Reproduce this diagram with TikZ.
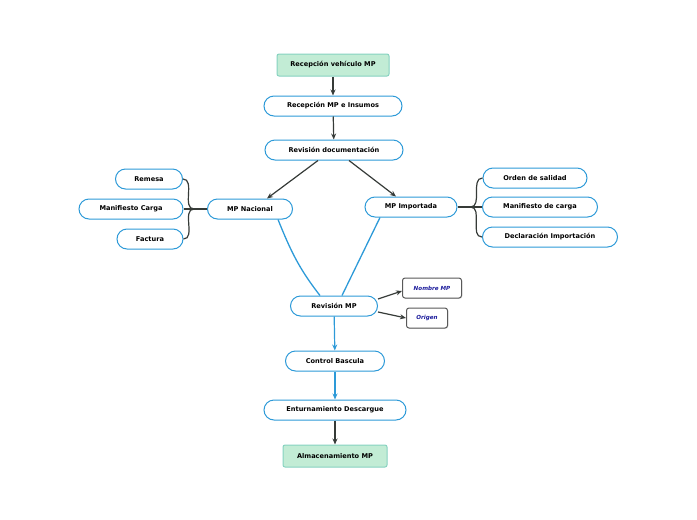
\documentclass[tikz,border=0pt]{standalone}
\usepackage{fontspec}
\setmainfont{DejaVu Sans}
\usetikzlibrary{arrows.meta,shadows}

\definecolor{mapblue}{HTML}{2D9AD8}
\definecolor{mapgreen}{HTML}{C2ECD5}
\definecolor{mapgreenline}{HTML}{86D2C0}
\definecolor{mapdark}{HTML}{363B38}
\definecolor{notetext}{HTML}{1C1C9C}

\tikzstyle{topic}=[draw=mapblue, fill=white, line width=1pt, rounded corners=10pt,
                   minimum height=20pt, inner sep=0pt,
                   font=\fontsize{6.6}{8}\selectfont\bfseries]
\tikzstyle{main-topic}=[draw=mapgreenline, fill=mapgreen, line width=1pt, rounded corners=2pt,
                        minimum height=22pt, inner sep=0pt,
                        font=\fontsize{6.6}{8}\selectfont\bfseries]
\tikzstyle{note}=[draw=black!65, fill=white, line width=1pt, rounded corners=2.5pt,
                  minimum height=20pt, inner sep=0pt,
                  drop shadow={opacity=0.25, shadow xshift=0.8pt, shadow yshift=-0.8pt},
                  text=notetext, font=\fontsize{5.6}{7}\selectfont\bfseries\itshape]
\tikzstyle{dark-edge} = [draw=mapdark, line width=1.2pt, -{Stealth[length=6pt,width=5pt]}]
\tikzstyle{blue-edge} = [draw=mapblue, line width=1.2pt, -{Stealth[length=6pt,width=5pt]}]
\tikzstyle{blue-line} = [draw=mapblue, line width=1.3pt]
\tikzstyle{branch} = [draw=mapdark, very thick]

\begin{document}
\begin{tikzpicture}[x=1pt, y=-1pt]
    \useasboundingbox (0,0) rectangle (697,520);
    % First we draw the topics
    \foreach \pos/\name/\w/\txt in {{(333,65)/rvm/112/Recepción vehículo MP},
        {(335,456)/alm/104/Almacenamiento MP}}
      \node[main-topic, minimum width=\w pt] (\name) at \pos {\txt};
    \foreach \pos/\name/\w/\txt in {{(333,106)/rmi/138/Recepción MP e Insumos},
        {(334,150)/rdoc/138/Revisión documentación},
        {(250,209)/nac/85/MP Nacional}, {(411,207)/imp/92/MP Importada},
        {(149,179)/rem/67/Remesa}, {(131,209)/manc/104/Manifiesto Carga},
        {(150,239)/fac/66/Factura},
        {(535,178)/ord/104/Orden de salidad}, {(540,207)/mand/115/Manifiesto de carga},
        {(550,237)/decl/135/Declaración Importación},
        {(334,306)/rmp/87/Revisión MP}, {(335,361)/ctrl/99/Control Bascula},
        {(335,410)/ent/142/Enturnamiento Descargue}}
      \node[topic, minimum width=\w pt] (\name) at \pos {\txt};
    \foreach \pos/\name/\w/\txt in {{(432,288)/nom/59/Nombre MP}, {(427,318)/ori/41/Origen}}
      \node[note, minimum width=\w pt] (\name) at \pos {\txt};
    % Then the branch junctions
    \coordinate (nacj) at ([xshift=-13pt]nac.west);
    \coordinate (impj) at ([xshift=13pt]imp.east);
    \draw[branch] (nac.west) -- (nacj);
    \draw[branch] (imp.east) -- (impj);
    \foreach \dest in {rem, manc, fac}
      \draw[branch] (nacj) to[out=180, in=0] (\dest.east);
    \foreach \dest in {ord, mand, decl}
      \draw[branch] (impj) to[out=0, in=180] (\dest.west);
    % Connect topics with arrows
    \foreach \source/\dest in {rvm/rmi, rmi/rdoc, ent/alm}
      \path[dark-edge] (\source) -- (\dest);
    \path[dark-edge] ([xshift=-16pt]rdoc.south) -- ([xshift=17pt]nac.north);
    \path[dark-edge] ([xshift=15pt]rdoc.south) -- ([xshift=-15pt]imp.north);
    \path[dark-edge] ([yshift=7pt]rmp.east) -- ([yshift=-3pt]nom.west);
    \path[dark-edge] ([yshift=-6pt]rmp.east) -- (ori.west);
    \path[blue-line] ([xshift=28pt]nac.south) to[out=-68, in=128] ([xshift=-14pt]rmp.north);
    \path[blue-line] ([xshift=-31pt]imp.south) -- ([xshift=8pt]rmp.north);
    \foreach \source/\dest in {rmp/ctrl, ctrl/ent}
      \path[blue-edge] (\source) -- (\dest);
  \end{tikzpicture}
\end{document}
